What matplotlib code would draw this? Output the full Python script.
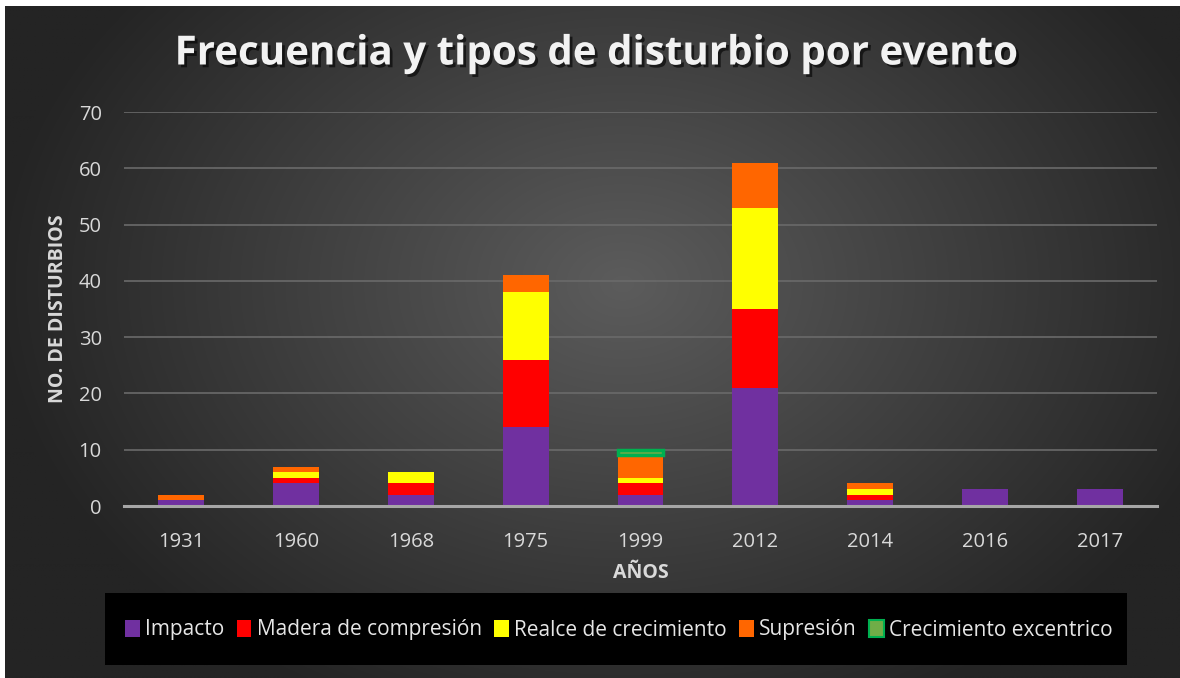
import numpy as np
import matplotlib
matplotlib.use("Agg")
import matplotlib.pyplot as plt
from matplotlib import patheffects as pe
from matplotlib.patches import Rectangle, Patch

years = ["1931", "1960", "1968", "1975", "1999", "2012", "2014", "2016", "2017"]
impacto = [1, 4, 2, 14, 2, 21, 1, 3, 3]
madera = [0, 1, 2, 12, 2, 14, 1, 0, 0]
realce = [0, 1, 2, 12, 1, 18, 1, 0, 0]
supresion = [1, 1, 0, 3, 4, 8, 1, 0, 0]
excentrico = [0, 0, 0, 0, 1, 0, 0, 0, 0]

series = [
    ("Impacto", impacto, "#7030A0", None),
    ("Madera de compresión", madera, "#FF0000", None),
    ("Realce de crecimiento", realce, "#FFFF00", None),
    ("Supresión", supresion, "#FF6600", None),
    ("Crecimiento excentrico", excentrico, "#70AD47", "#00B050"),
]
yticks = [0, 10, 20, 30, 40, 50, 60, 70]

W, H = 1180, 678
fig = plt.figure(figsize=(W / 100, H / 100), dpi=100)
fig.patch.set_facecolor("white")

# radial gradient background
bg = fig.add_axes([5 / W, 0, 1 - 5 / W, 1 - 6 / H])
bg.set_axis_off()
yy, xx = np.mgrid[0:H, 0:W]
cx, cy = 620, 280
r = np.sqrt(((xx - cx) / 700) ** 2 + ((yy - cy) / 520) ** 2)
val = np.clip(92 - 62 * r, 36, 92) / 255.0
img = np.dstack([val, val, val])
bg.imshow(img, aspect="auto", interpolation="bilinear")

ax = fig.add_axes([124 / W, (H - 506) / H, (1157 - 124) / W, (506 - 112) / H])
ax.set_facecolor("none")
x = np.arange(len(years))
bottom = np.zeros(len(years))
shadow = [pe.SimplePatchShadow(offset=(0, 0), shadow_rgbFace="black", alpha=0.25), pe.Normal()]
handles = []
for name, vals, color, edge in series:
    v = np.array(vals, dtype=float)
    bars = ax.bar(x, v, 0.4, bottom=bottom, color=color,
                  edgecolor=edge if edge else "none",
                  linewidth=2.5 if edge else 0, zorder=3)
    for b, h in zip(bars, v):
        if h == 0:
            b.set_visible(False)
        b.set_path_effects(shadow)
    bottom += v
    handles.append(Patch(facecolor=color, edgecolor=edge if edge else "none",
                         linewidth=1.5 if edge else 0, label=name))

ax.set_xlim(-0.5, len(years) - 0.5)
ax.set_ylim(0, 70)
ax.set_yticks(yticks)
ax.set_xticks(x)
ax.set_xticklabels(years)
ax.grid(axis="y", color="#6a6a6a", linewidth=1.2, zorder=0)
ax.set_axisbelow(True)
for s in ["top", "right", "left"]:
    ax.spines[s].set_visible(False)
ax.spines["bottom"].set_color("#a6a6a6")
ax.spines["bottom"].set_linewidth(2.2)
ax.spines["bottom"].set_zorder(4)
ax.tick_params(axis="both", length=0, colors="#d9d9d9", labelsize=14.5)
ax.tick_params(axis="y", pad=16)
ax.tick_params(axis="x", pad=19)
for lbl in ax.get_xticklabels() + ax.get_yticklabels():
    lbl.set_fontfamily("Open Sans")

ax.set_xlabel("AÑOS", fontsize=14, fontweight="bold", color="#d9d9d9",
              family="Open Sans", labelpad=8)
ax.set_ylabel("NO. DE DISTURBIOS", fontsize=14, fontweight="bold", color="#d9d9d9",
              family="Open Sans", labelpad=8)

title = fig.text(595 / W, 1 - 54 / H, "Frecuencia y tipos de disturbio por evento",
                 ha="center", va="center", fontsize=29, fontweight="bold",
                 color="#f2f2f2", family="Open Sans")
title.set_path_effects([pe.withSimplePatchShadow(offset=(2, -2), shadow_rgbFace="black", alpha=0.6)])

# legend panel
fig.patches.append(Rectangle((105 / W, 1 - 665 / H), (1127 - 105) / W, (665 - 593) / H,
                             transform=fig.transFigure, facecolor="black",
                             edgecolor="none", zorder=1))
leg = fig.legend(handles=handles, loc="center", bbox_to_anchor=(619 / W, 1 - 630 / H),
                 ncol=5, frameon=False, handlelength=0.7,
                 handleheight=0.9, handletextpad=0.25, columnspacing=0.6,
                 labelcolor="#e6e6e6", prop={"family": "Open Sans", "size": 15})
leg.set_zorder(5)

fig.savefig("out.png", dpi=100, facecolor=fig.get_facecolor())
